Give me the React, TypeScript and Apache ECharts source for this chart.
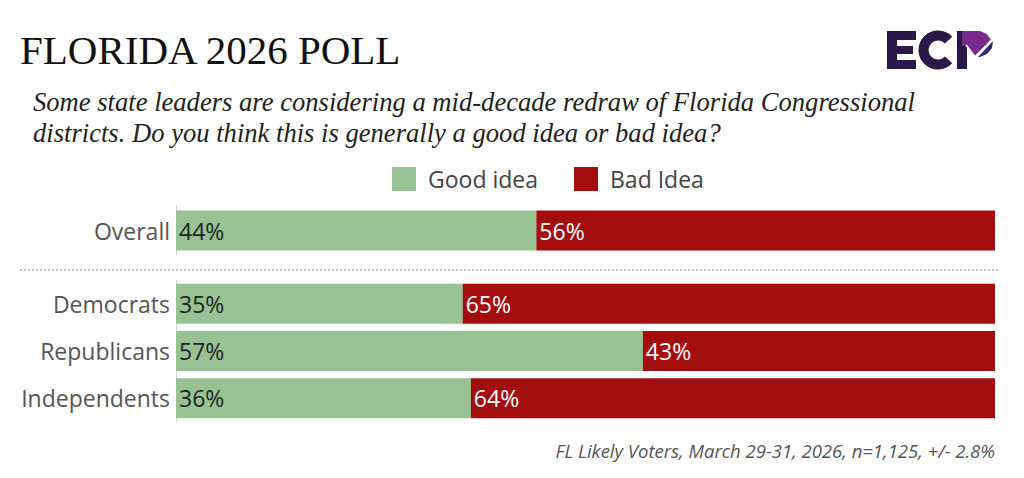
import React, { useEffect, useRef } from "react";
import * as echarts from "echarts";

const overallCategories = ["Overall"];
const overallGood = [44];
const overallBad = [56];
const partyCategories = ["Democrats", "Republicans", "Independents"];
const partyGood = [35, 57, 36];
const partyBad = [65, 43, 64];
const seriesNames = ["Good idea", "Bad Idea"];
const titleText = "FLORIDA 2026 POLL";
const subtitleLines = [
  "Some state leaders are considering a mid-decade redraw of Florida Congressional",
  "districts. Do you think this is generally a good idea or bad idea?",
];
const footnote = "FL Likely Voters, March 29-31, 2026, n=1,125, +/- 2.8%";

const GREEN = "#97c394";
const RED = "#a30d0d";
const SANS = "'Open Sans', Lato, sans-serif";
const SERIF = "'Liberation Serif', 'DejaVu Serif', serif";

export default function App() {
  const ref = useRef<HTMLDivElement>(null);
  useEffect(() => {
    if (!ref.current) return;
    const chart = echarts.init(ref.current, null, { renderer: "svg" });
    const axisLabel = { fontFamily: SANS, fontSize: 23, color: "#555", margin: 6 };
    const yCommon = {
      type: "category" as const,
      inverse: true,
      axisLine: { show: true, lineStyle: { color: "#cfcfcf", width: 1 } },
      axisTick: { show: false },
      axisLabel,
    };
    const xCommon = {
      type: "value" as const,
      min: 0,
      max: 100,
      show: false,
    };
    const goodLabel = {
      show: true,
      position: "insideLeft" as const,
      distance: 3,
      formatter: "{c}%",
      fontFamily: SANS,
      fontSize: 23,
      color: "#222",
    };
    const badLabel = { ...goodLabel, color: "#fff" };
    chart.setOption({
      animation: false,
      grid: [
        { left: 176, right: 29, top: 206, height: 49 },
        { left: 176, right: 29, top: 280, height: 142 },
      ],
      xAxis: [
        { ...xCommon, gridIndex: 0 },
        { ...xCommon, gridIndex: 1 },
      ],
      yAxis: [
        { ...yCommon, gridIndex: 0, data: overallCategories },
        { ...yCommon, gridIndex: 1, data: partyCategories },
      ],
      legend: {
        data: seriesNames,
        left: 387,
        top: 162,
        itemWidth: 24,
        itemHeight: 24,
        itemGap: 36,
        icon: "rect",
        textStyle: { fontFamily: SANS, fontSize: 23, color: "#444", padding: [0, 0, 0, 7] },
        selectedMode: false,
      },
      series: [
        {
          name: seriesNames[0], type: "bar", stack: "o", xAxisIndex: 0, yAxisIndex: 0,
          data: overallGood, barWidth: 40, itemStyle: { color: GREEN }, label: goodLabel,
        },
        {
          name: seriesNames[1], type: "bar", stack: "o", xAxisIndex: 0, yAxisIndex: 0,
          data: overallBad, barWidth: 40, itemStyle: { color: RED }, label: badLabel,
        },
        {
          name: seriesNames[0], type: "bar", stack: "p", xAxisIndex: 1, yAxisIndex: 1,
          data: partyGood, barWidth: 40, itemStyle: { color: GREEN }, label: goodLabel,
        },
        {
          name: seriesNames[1], type: "bar", stack: "p", xAxisIndex: 1, yAxisIndex: 1,
          data: partyBad, barWidth: 40, itemStyle: { color: RED }, label: badLabel,
        },
      ],
      graphic: [
        {
          type: "text", left: 20, top: 29,
          style: { text: titleText, font: `41px ${SERIF}`, fill: "#111" },
        },
        {
          type: "text", left: 33, top: 86,
          style: {
            text: subtitleLines.join("\n"), font: `italic 26.6px ${SERIF}`, fill: "#222",
            lineHeight: 31,
          },
        },
        {
          type: "line",
          shape: { x1: 20, y1: 270, x2: 998, y2: 270 },
          style: { stroke: "#888", lineWidth: 1, lineDash: [2, 2] },
        },
        {
          type: "text", right: 29, top: 441,
          style: { text: footnote, font: `italic 18.5px ${SANS}`, fill: "#555" },
        },
        // ECP logo
        {
          type: "group",
          children: [
            { type: "rect", shape: { x: 887, y: 31, width: 10, height: 38 }, style: { fill: "#2b1748" } },
            { type: "rect", shape: { x: 887, y: 31, width: 29, height: 9 }, style: { fill: "#2b1748" } },
            { type: "rect", shape: { x: 887, y: 46, width: 26, height: 8 }, style: { fill: "#2b1748" } },
            { type: "rect", shape: { x: 887, y: 60, width: 29, height: 9 }, style: { fill: "#2b1748" } },
            {
              type: "arc",
              shape: { cx: 938, cy: 50, r: 14.5, startAngle: 0.75, endAngle: Math.PI * 2 - 0.75, clockwise: true },
              style: { stroke: "#2b1748", lineWidth: 10, fill: "none" },
            },
            { type: "rect", shape: { x: 957, y: 31, width: 10, height: 38 }, style: { fill: "#2b1748" } },
            {
              type: "polygon",
              shape: { points: [[962, 31], [980, 31], [987, 34], [991, 40], [975, 57], [967, 46], [962, 46]] },
              style: { fill: "#7a2a8e" },
            },
            {
              type: "polygon",
              shape: { points: [[993, 41], [992, 48], [987, 54], [980, 57], [978, 57]] },
              style: { fill: "#2b2a78" },
            },
            {
              type: "polyline",
              shape: { points: [[966, 45], [975, 57], [993, 39]] },
              style: { stroke: "#fff", lineWidth: 2, fill: "none" },
            },
          ],
        },
      ],
    });
    return () => chart.dispose();
  }, []);
  return (
    <div
      ref={ref}
      style={{ position: "absolute", left: 0, top: 0, width: 1024, height: 478 }}
    />
  );
}
